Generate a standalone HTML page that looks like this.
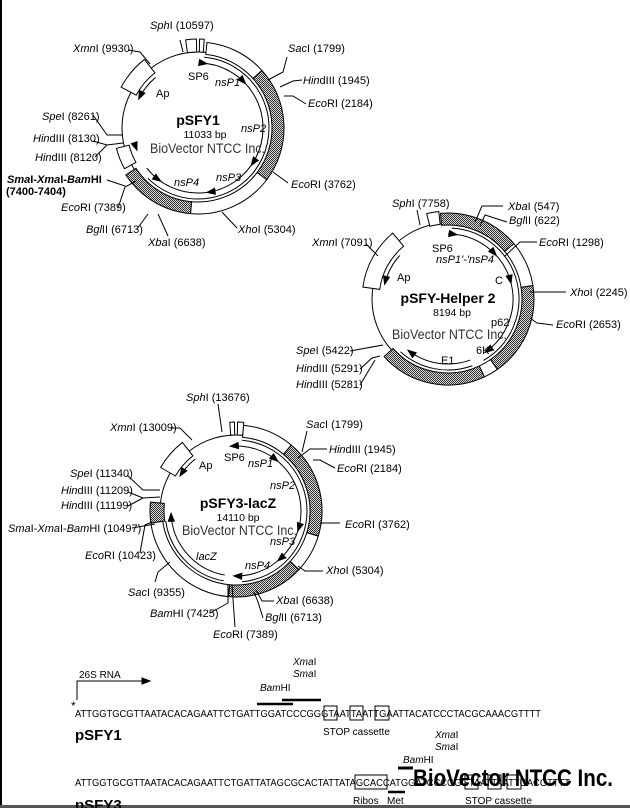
<!DOCTYPE html>
<html><head><meta charset="utf-8"><style>
html,body{margin:0;padding:0;background:#fff;}
svg{display:block;font-family:"Liberation Sans",Arial,sans-serif;}
.l{font-size:11px;fill:#000;}
.i{font-style:italic;}
.b{font-weight:bold;}
</style></head><body>
<svg id="s" width="630" height="808" viewBox="0 0 630 808" xmlns="http://www.w3.org/2000/svg">
<defs>
<pattern id="h" width="2" height="2" patternUnits="userSpaceOnUse">
<rect width="2" height="2" fill="#d8d8d8"/><rect width="1" height="1" fill="#333"/><rect x="1" y="1" width="1" height="1" fill="#333"/>
</pattern>
</defs>
<rect x="0" y="0" width="2" height="808" fill="#000"/>
<rect x="0" y="805" width="630" height="3" fill="#555"/>
<g id="g" fill="none" stroke="#000" stroke-width="1"></g>
<g id="t" class="l">
<!-- plasmid 1 labels -->
<text x="150" y="29"><tspan class="i">Sph</tspan>I (10597)</text>
<text x="73" y="52"><tspan class="i">Xmn</tspan>I (9930)</text>
<text x="288" y="52"><tspan class="i">Sac</tspan>I (1799)</text>
<text x="303" y="84"><tspan class="i">Hin</tspan>dIII (1945)</text>
<text x="308" y="107"><tspan class="i">Eco</tspan>RI (2184)</text>
<text x="42" y="120"><tspan class="i">Spe</tspan>I (8261)</text>
<text x="33" y="142"><tspan class="i">Hin</tspan>dIII (8130)</text>
<text x="35" y="161"><tspan class="i">Hin</tspan>dIII (8120)</text>
<text x="7" y="183" class="b"><tspan class="i">Sma</tspan>I-<tspan class="i">Xma</tspan>I-<tspan class="i">Bam</tspan>HI</text>
<text x="6" y="195" class="b">(7400-7404)</text>
<text x="61" y="211"><tspan class="i">Eco</tspan>RI (7389)</text>
<text x="86" y="233"><tspan class="i">Bgl</tspan>II (6713)</text>
<text x="148" y="246"><tspan class="i">Xba</tspan>I (6638)</text>
<text x="238" y="233"><tspan class="i">Xho</tspan>I (5304)</text>
<text x="291" y="188"><tspan class="i">Eco</tspan>RI (3762)</text>
<text x="188" y="80">SP6</text>
<text x="215" y="86" class="i">nsP1</text>
<text x="156" y="97">Ap</text>
<text x="241" y="132" class="i">nsP2</text>
<text x="216" y="181" class="i">nsP3</text>
<text x="174" y="186" class="i">nsP4</text>
<text x="198" y="125" text-anchor="middle" class="b" font-size="14">pSFY1</text>
<text x="205" y="138" text-anchor="middle" font-size="10.5">11033 bp</text>
<text x="150" y="153" font-size="13.5" fill="#333" textLength="115" lengthAdjust="spacingAndGlyphs">BioVector NTCC Inc.</text>
<!-- plasmid 2 labels -->
<text x="392" y="207"><tspan class="i">Sph</tspan>I (7758)</text>
<text x="508" y="210"><tspan class="i">Xba</tspan>I (547)</text>
<text x="509" y="224"><tspan class="i">Bgl</tspan>II (622)</text>
<text x="539" y="246"><tspan class="i">Eco</tspan>RI (1298)</text>
<text x="312" y="246"><tspan class="i">Xmn</tspan>I (7091)</text>
<text x="570" y="296"><tspan class="i">Xho</tspan>I (2245)</text>
<text x="556" y="328"><tspan class="i">Eco</tspan>RI (2653)</text>
<text x="296" y="354"><tspan class="i">Spe</tspan>I (5422)</text>
<text x="296" y="372"><tspan class="i">Hin</tspan>dIII (5291)</text>
<text x="296" y="388"><tspan class="i">Hin</tspan>dIII (5281)</text>
<text x="432" y="252">SP6</text>
<text x="436" y="263" class="i">nsP1'-'nsP4</text>
<text x="397" y="281">Ap</text>
<text x="495" y="284">C</text>
<text x="448" y="303" text-anchor="middle" class="b" font-size="14">pSFY-Helper 2</text>
<text x="452" y="316" text-anchor="middle" font-size="10.5">8194 bp</text>
<text x="491" y="326">p62</text>
<text x="392" y="339" font-size="13.5" fill="#333" textLength="115" lengthAdjust="spacingAndGlyphs">BioVector NTCC Inc.</text>
<text x="476" y="354">6K</text>
<text x="441" y="364">E1</text>
<!-- plasmid 3 labels -->
<text x="186" y="401"><tspan class="i">Sph</tspan>I (13676)</text>
<text x="110" y="431"><tspan class="i">Xmn</tspan>I (13009)</text>
<text x="306" y="428"><tspan class="i">Sac</tspan>I (1799)</text>
<text x="329" y="453"><tspan class="i">Hin</tspan>dIII (1945)</text>
<text x="337" y="472"><tspan class="i">Eco</tspan>RI (2184)</text>
<text x="70" y="477"><tspan class="i">Spe</tspan>I (11340)</text>
<text x="61" y="494"><tspan class="i">Hin</tspan>dIII (11209)</text>
<text x="61" y="509"><tspan class="i">Hin</tspan>dIII (11199)</text>
<text x="8" y="532"><tspan class="i">Sma</tspan>I-<tspan class="i">Xma</tspan>I-<tspan class="i">Bam</tspan>HI (10497)</text>
<text x="85" y="559"><tspan class="i">Eco</tspan>RI (10423)</text>
<text x="345" y="528"><tspan class="i">Eco</tspan>RI (3762)</text>
<text x="326" y="574"><tspan class="i">Xho</tspan>I (5304)</text>
<text x="128" y="596"><tspan class="i">Sac</tspan>I (9355)</text>
<text x="276" y="604"><tspan class="i">Xba</tspan>I (6638)</text>
<text x="265" y="621"><tspan class="i">Bgl</tspan>II (6713)</text>
<text x="150" y="617"><tspan class="i">Bam</tspan>HI (7425)</text>
<text x="213" y="638"><tspan class="i">Eco</tspan>RI (7389)</text>
<text x="224" y="461">SP6</text>
<text x="248" y="467" class="i">nsP1</text>
<text x="199" y="469">Ap</text>
<text x="270" y="489" class="i">nsP2</text>
<text x="238" y="508" text-anchor="middle" class="b" font-size="14">pSFY3-lacZ</text>
<text x="238" y="521" text-anchor="middle" font-size="10.5">14110 bp</text>
<text x="182" y="535" font-size="13.5" fill="#333" textLength="115" lengthAdjust="spacingAndGlyphs">BioVector NTCC Inc.</text>
<text x="270" y="545" class="i">nsP3</text>
<text x="196" y="560" class="i">lacZ</text>
<text x="245" y="569" class="i">nsP4</text>
<!-- sequences -->
<text x="79" y="678" font-size="10">26S RNA</text>
<text x="293" y="665" font-size="10" class="i">Xma<tspan font-style="normal">I</tspan></text>
<text x="293" y="677" font-size="10" class="i">Sma<tspan font-style="normal">I</tspan></text>
<text x="260" y="691" font-size="10" class="i">Bam<tspan font-style="normal">HI</tspan></text>
<text x="71" y="710" font-size="12">*</text>
<text x="75" y="717" font-size="10" textLength="466" lengthAdjust="spacingAndGlyphs">ATTGGTGCGTTAATACACAGAATTCTGATTGGATCCCGGGTAATTAATTGAATTACATCCCTACGCAAACGTTTT</text>
<text x="323" y="735" font-size="10">STOP cassette</text>
<text x="75" y="740" font-size="15" class="b">pSFY1</text>
<text x="435" y="738" font-size="10" class="i">Xma<tspan font-style="normal">I</tspan></text>
<text x="435" y="750" font-size="10" class="i">Sma<tspan font-style="normal">I</tspan></text>
<text x="403" y="763" font-size="10" class="i">Bam<tspan font-style="normal">HI</tspan></text>
<text x="75" y="786" font-size="10" textLength="495" lengthAdjust="spacingAndGlyphs">ATTGGTGCGTTAATACACAGAATTCTGATTATAGCGCACTATTATAGCACCATGGATCCCGGGTAATTAATTGACGTTTT</text>
<text x="353" y="804" font-size="10">Ribos</text>
<text x="387" y="804" font-size="10">Met</text>
<text x="465" y="804" font-size="10">STOP cassette</text>
<text x="75" y="810" font-size="15" class="b">pSFY3</text>
<text x="413" y="786" font-size="24" class="b" textLength="200" lengthAdjust="spacingAndGlyphs">BioVector NTCC Inc.</text>
</g>
<g fill="none" stroke="#000">
<!-- sequence graphics -->
<polyline points="77,700 77,681 143,681"/>
<polygon points="150,681 142,678 142,684" fill="#000"/>
<line x1="257" y1="704" x2="293" y2="704" stroke-width="2.5"/>
<line x1="282" y1="700" x2="321" y2="700" stroke-width="2.5"/>
<rect x="324" y="706" width="13" height="14"/>
<rect x="350" y="706" width="13" height="14"/>
<rect x="375" y="706" width="14" height="14"/>
<rect x="355" y="775" width="32" height="14"/>
<rect x="465" y="775" width="13" height="14"/>
<rect x="488" y="775" width="13" height="14"/>
<rect x="507" y="775" width="14" height="14"/>
<line x1="388" y1="792" x2="405" y2="792" stroke-width="2.5"/>
<line x1="398" y1="768" x2="413" y2="768" stroke-width="3"/>
</g>
</svg>
<script>
(function(){
var g=document.getElementById('g');var NS='http://www.w3.org/2000/svg';
function el(n,a){var e=document.createElementNS(NS,n);for(var k in a)e.setAttribute(k,a[k]);g.appendChild(e);return e;}
function pt(c,r,a){var t=a*Math.PI/180;return [c[0]+r*Math.sin(t),c[1]-r*Math.cos(t)];}
function arcD(c,r,a1,a2){if(a2<a1)a2+=360;var p=pt(c,r,a1),q=pt(c,r,a2);var lg=(a2-a1)>180?1:0;
 return 'M'+p[0].toFixed(2)+','+p[1].toFixed(2)+' A'+r+','+r+' 0 '+lg+' 1 '+q[0].toFixed(2)+','+q[1].toFixed(2);}
function arc(c,r,a1,a2){el('path',{d:arcD(c,r,a1,a2)});}
function circ(c,r){el('circle',{cx:c[0],cy:c[1],r:r});}
function band(c,r1,r2,a1,a2,f){if(a2<a1)a2+=360;var lg=(a2-a1)>180?1:0;var p=pt(c,r2,a1),q=pt(c,r2,a2),u=pt(c,r1,a2),v=pt(c,r1,a1);
 el('path',{d:'M'+p+' A'+r2+','+r2+' 0 '+lg+' 1 '+q+' L'+u+' A'+r1+','+r1+' 0 '+lg+' 0 '+v+' Z',fill:f});}
function head(c,r,a,dir){var t=a*Math.PI/180;var tip=pt(c,r,a);var tx=Math.cos(t)*dir,ty=Math.sin(t)*dir;var nx=Math.sin(t),ny=-Math.cos(t);
 var bx=tip[0]-tx*8,by=tip[1]-ty*8;el('polygon',{points:tip[0]+','+tip[1]+' '+(bx+nx*3)+','+(by+ny*3)+' '+(bx-nx*3)+','+(by-ny*3),fill:'#000'});}
function pl(p){el('polyline',{points:p});}
var H='url(#h)',W='#fff';
// plasmid 1
var c1=[198,128];
circ(c1,76);
band(c1,74,86,6,48,W);band(c1,74,86,48,127,H);band(c1,74,86,127,185,W);band(c1,74,86,185,237,H);
band(c1,71,84,241,256,W);band(c1,70,87,298,322,W);band(c1,76,89,352,359,W);band(c1,76,89,1,4,W);
arc(c1,71,5,225);arc(c1,65,2,232);head(c1,65,8,1);head(c1,65,47,1);head(c1,65,125,1);head(c1,65,172,1);head(c1,65,215,-1);head(c1,65,250,-1);
arc(c1,66,298,320);head(c1,66,296,-1);
pl('180,40 183,52');pl('128,50 140,52 150,64');pl('287,57 283,72 268,80');pl('302,80 293,81 280,87');pl('306,104 293,96 284,96');
pl('93,115 107,135 123,135');pl('93,141 107,145 123,143');pl('95,157 107,145');pl('107,180 125,186');pl('118,208 125,187 136,181');
pl('137,229 148,214');pl('158,214 168,236');pl('237,228 222,212');pl('288,183 273,172');
// plasmid 2
var c2=[448,299];
circ(c2,76);
band(c2,74,86,355,50,H);band(c2,74,86,50,81,W);band(c2,74,86,81,145,H);band(c2,74,86,145,155,W);band(c2,74,86,155,228,H);
band(c2,69,86,278,320,W);band(c2,75,88,346,354,W);
arc(c2,71,3,150);arc(c2,65,0,146);head(c2,65,8,1);head(c2,65,48,1);head(c2,65,76,1);head(c2,65,145,1);
arc(c2,71,160,222);arc(c2,65,160,218);head(c2,65,218,1);
arc(c2,65,285,312);head(c2,65,283,-1);
pl('417,210 420,225');pl('503,206 482,206 475,222');pl('507,222 485,215 480,226');pl('537,242 520,242 505,256');pl('366,244 378,256');
pl('566,292 530,292');pl('553,325 537,323 530,318');pl('350,351 383,345');pl('360,369 372,358 380,356');pl('360,385 375,360');
// plasmid 3
var c3=[236,511];
circ(c3,76);
band(c3,74,86,5,40,W);band(c3,74,86,40,107,H);band(c3,74,86,107,133,W);band(c3,74,86,133,185,H);band(c3,74,86,185,262,W);
band(c3,72,86,262,276,H);band(c3,70,87,300,322,W);band(c3,76,89,356,359,W);band(c3,76,89,1,5,W);
arc(c3,71,5,175);arc(c3,65,355,182);head(c3,65,355,-1);head(c3,65,40,1);head(c3,65,108,1);head(c3,65,140,1);head(c3,65,182,1);
arc(c3,71,190,262);arc(c3,65,190,268);head(c3,65,268,1);
arc(c3,66,305,322);head(c3,66,302,-1);
pl('218,404 222,432');pl('170,428 180,428 192,440');pl('307,431 302,452');pl('327,449 310,449 298,458');pl('335,468 320,460 313,460');
pl('127,475 143,490 160,490');pl('128,492 143,498 160,497');pl('128,506 143,498');pl('132,528 155,524');pl('140,553 145,525 152,522');
pl('340,523 320,523');pl('323,571 305,571 298,566');pl('155,582 158,572 170,562');pl('274,601 262,601 256,590');pl('263,618 258,602 254,592');
pl('210,613 228,603 228,585');pl('235,627 232,585');
})();
</script>
</body></html>
